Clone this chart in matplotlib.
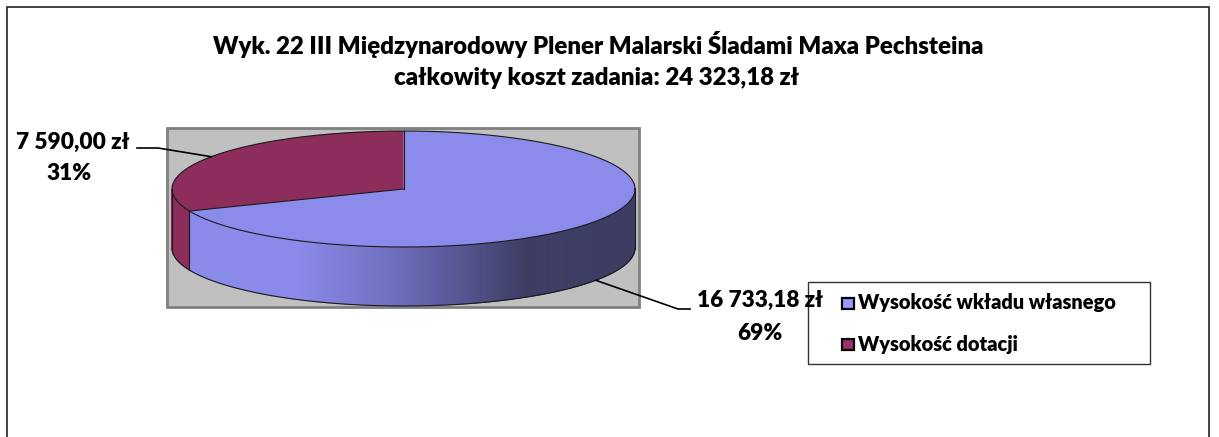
#!/usr/bin/env python3
# -*- coding: utf-8 -*-

import matplotlib
matplotlib.use("Agg")
import matplotlib.pyplot as plt
import numpy as np
from matplotlib.patches import Polygon, Rectangle


CATEGORIES = ["Wysokość wkładu własnego", "Wysokość dotacji"]
VALUES = [16733.18, 7590.00]
TITLE_LINE = "Wyk. 22 III Międzynarodowy Plener Malarski Śladami Maxa Pechsteina"
TOTAL_LABEL = "całkowity koszt zadania: "

TOP_COLORS = ["#8b8bec", "#8c2d5b"]
LEGEND_COLORS = ["#9999ff", "#993366"]

# =========================
# layout (pixels)
# =========================
W, H = 1219, 437
DPI = 100
FONT = "Lato"
WEIGHT = "heavy"
CX, CY = 403.5, 189.0
RX, RY = 231.5, 58.0
DEPTH = 59.0

# shading of the front wall of the first slice, by x position
SHADE_X = [300, 400, 470, 525]
SHADE_RGB = [(0x8a, 0x8a, 0xea), (0x6c, 0x6c, 0xbb), (0x52, 0x52, 0x8c), (0x3d, 0x3d, 0x64)]


def pln(v):
    return f"{v:,.2f}".replace(",", " ").replace(".", ",") + " zł"


def ell(t, dy=0.0):
    t = np.radians(np.atleast_1d(t))
    return np.column_stack([CX + RX * np.cos(t), CY - RY * np.sin(t) + dy])


def shade(x):
    rgb = [np.interp(x, SHADE_X, [c[i] for c in SHADE_RGB]) / 255.0 for i in range(3)]
    return tuple(rgb)


def fit_width(fig, txt, width_px):
    r = fig.canvas.get_renderer()
    w = txt.get_window_extent(renderer=r).width
    txt.set_fontsize(txt.get_fontsize() * width_px / w)
    return txt.get_fontsize()


def main():
    plt.rcParams["font.family"] = [FONT, "DejaVu Sans"]
    plt.rcParams["font.weight"] = WEIGHT
    fig = plt.figure(figsize=(W / DPI, H / DPI), dpi=DPI)
    ax = fig.add_axes([0, 0, 1, 1])
    ax.set_xlim(0, W)
    ax.set_ylim(H, 0)
    ax.axis("off")

    # chart frame (bottom is cut off in the source)
    ax.plot([7, 7, 1209, 1209], [H, 7, 7, H], color="#111111", lw=1.1, solid_joinstyle="miter")

    # plot area
    ax.add_patch(Rectangle((167, 128), 472, 179, facecolor="#c0c0c0", edgecolor="#808080", lw=2))

    vals = np.array(VALUES)
    frac = vals / vals.sum()
    edges = 90 - 360 * np.concatenate([[0], np.cumsum(frac)])

    # front walls
    for i in range(len(vals)):
        lo, hi = max(edges[i + 1], -180), min(edges[i], 0)
        if hi <= lo:
            continue
        ts = np.linspace(lo, hi, int((hi - lo) * 2) + 2)
        for a, b in zip(ts[:-1], ts[1:]):
            top = ell([a, b])
            bot = ell([b, a], DEPTH)
            xm = top[:, 0].mean()
            col = shade(xm) if i == 0 else TOP_COLORS[i]
            ax.add_patch(Polygon(np.vstack([top, bot]), closed=True, facecolor=col,
                                 edgecolor=col, lw=0.6))

    # top face
    for i in range(len(vals)):
        ts = np.linspace(edges[i + 1], edges[i], 200)
        pts = np.vstack([[CX, CY], ell(ts)])
        ax.add_patch(Polygon(pts, closed=True, facecolor=TOP_COLORS[i], edgecolor="none"))

    # outlines
    lc, lw = "#1a1a1a", 0.8
    full = ell(np.linspace(0, 360, 400))
    ax.plot(full[:, 0], full[:, 1], color=lc, lw=lw)
    bottom = ell(np.linspace(-180, 0, 200), DEPTH)
    ax.plot(bottom[:, 0], bottom[:, 1], color=lc, lw=lw)
    for t in [-180, 0] + [e for e in edges if -180 < e < 0]:
        p = np.vstack([ell(t), ell(t, DEPTH)])
        ax.plot(p[:, 0], p[:, 1], color=lc, lw=lw)
    for e in edges[:-1]:
        p = np.vstack([[CX, CY], ell(e)])
        ax.plot(p[:, 0], p[:, 1], color=lc, lw=lw)

    # title
    t1 = ax.text(598, 54, TITLE_LINE, ha="center", va="baseline", fontsize=18)
    title_fs = fit_width(fig, t1, 770)
    ax.text(597, 85, TOTAL_LABEL + pln(vals.sum()), ha="center", va="baseline", fontsize=title_fs)

    # legend box
    ax.add_patch(Rectangle((808, 282), 342, 82, facecolor="white", edgecolor="#333333", lw=1))
    lg = ax.text(858, 309, CATEGORIES[0], ha="left", va="baseline", fontsize=14)
    leg_fs = fit_width(fig, lg, 259)
    ax.text(858, 351, CATEGORIES[1], ha="left", va="baseline", fontsize=leg_fs)
    for y, col in zip([303, 344], LEGEND_COLORS):
        ax.add_patch(Rectangle((842, y - 5.5), 12, 11, facecolor=col, edgecolor="black", lw=1.6))

    # data labels with leader lines
    pct = [f"{round(f * 100):.0f}%" for f in frac]
    mids = (edges[:-1] + edges[1:]) / 2
    # first slice: label bottom right, attached to the base of the front wall
    p0 = ell(mids[0], DEPTH)[0]
    ax.plot([p0[0], 678, 690], [p0[1], 309, 309], color="black", lw=1.2)
    l0 = ax.text(760, 307, pln(vals[0]), ha="center", va="baseline", fontsize=14)
    lab_fs = fit_width(fig, l0, 127)
    ax.text(760, 340, pct[0], ha="center", va="baseline", fontsize=lab_fs)
    # second slice: label top left, attached to the rim
    p1 = ell(mids[1])[0]
    ax.plot([137, 158, p1[0]], [148, 148, p1[1]], color="black", lw=1.2)
    ax.text(73, 149, pln(vals[1]), ha="center", va="baseline", fontsize=lab_fs)
    ax.text(69, 180, pct[1], ha="center", va="baseline", fontsize=lab_fs)

    fig.savefig("out.png", dpi=DPI)
    plt.close(fig)


if __name__ == "__main__":
    main()
